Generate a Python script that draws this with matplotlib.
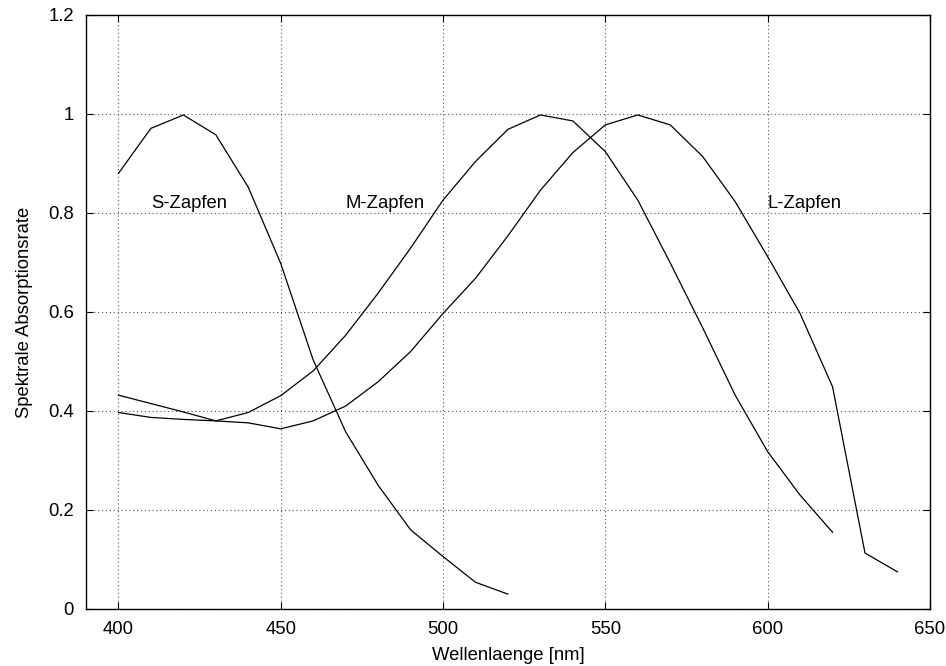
import matplotlib
matplotlib.use("Agg")
import matplotlib.pyplot as plt
import numpy as np

# Wellenlaengen in nm
wl_s = [400, 410, 420, 430, 440, 450, 460, 470, 480, 490, 500, 510, 520]
wl_m = [400, 410, 420, 430, 440, 450, 460, 470, 480, 490, 500, 510, 520,
        530, 540, 550, 560, 570, 580, 590, 600, 610, 620]
wl_l = [400, 410, 420, 430, 440, 450, 460, 470, 480, 490, 500, 510, 520,
        530, 540, 550, 560, 570, 580, 590, 600, 610, 620, 630, 640]

# Absorptionsraten der drei Zapfentypen
s_cone = [0.880, 0.971, 0.998, 0.958, 0.852, 0.698, 0.503, 0.358, 0.250,
          0.160, 0.106, 0.054, 0.030]
m_cone = [0.432, 0.415, 0.398, 0.380, 0.397, 0.431, 0.481, 0.553, 0.638,
          0.729, 0.826, 0.904, 0.969, 0.998, 0.986, 0.924, 0.826, 0.699,
          0.568, 0.432, 0.318, 0.230, 0.155]
l_cone = [0.397, 0.387, 0.383, 0.380, 0.376, 0.364, 0.380, 0.410, 0.459,
          0.520, 0.597, 0.668, 0.754, 0.846, 0.922, 0.978, 0.998, 0.978,
          0.914, 0.823, 0.712, 0.597, 0.449, 0.113, 0.075]

labels = ["S-Zapfen", "M-Zapfen", "L-Zapfen"]
label_x = [410, 470, 600]
label_y = 0.82

plt.rcParams['font.family'] = ['Liberation Sans', 'DejaVu Sans']
fs = 13.3

fig = plt.figure(figsize=(9.46, 6.66), dpi=100)
ax = fig.add_axes([0.0909, 0.0856, 0.8921, 0.8919])

ax.plot(wl_s, s_cone, color='black', lw=0.9)
ax.plot(wl_m, m_cone, color='black', lw=0.9)
ax.plot(wl_l, l_cone, color='black', lw=0.9)

for txt, lx in zip(labels, label_x):
    ax.text(lx, label_y, txt, ha='left', va='center', fontsize=fs)

ax.set_xlim(390, 650)
ax.set_ylim(0, 1.2)
ax.set_xticks(np.arange(400, 651, 50))
ax.set_yticks(np.arange(0, 1.21, 0.2))
ax.set_yticklabels(['0', '0.2', '0.4', '0.6', '0.8', '1', '1.2'])
ax.tick_params(direction='in', length=5, width=0.8, top=True, right=True,
               labelsize=fs, pad=8.6)
ax.grid(True, linestyle=(0, (1, 2.5)), color='#555555', lw=0.8)

for sp in ax.spines.values():
    sp.set_linewidth(1.0)

ax.set_xlabel('Wellenlaenge [nm]', fontsize=fs, labelpad=6.5)
ax.set_ylabel('Spektrale Absorptionsrate', fontsize=fs, labelpad=11)

fig.savefig('out.png', dpi=100)
